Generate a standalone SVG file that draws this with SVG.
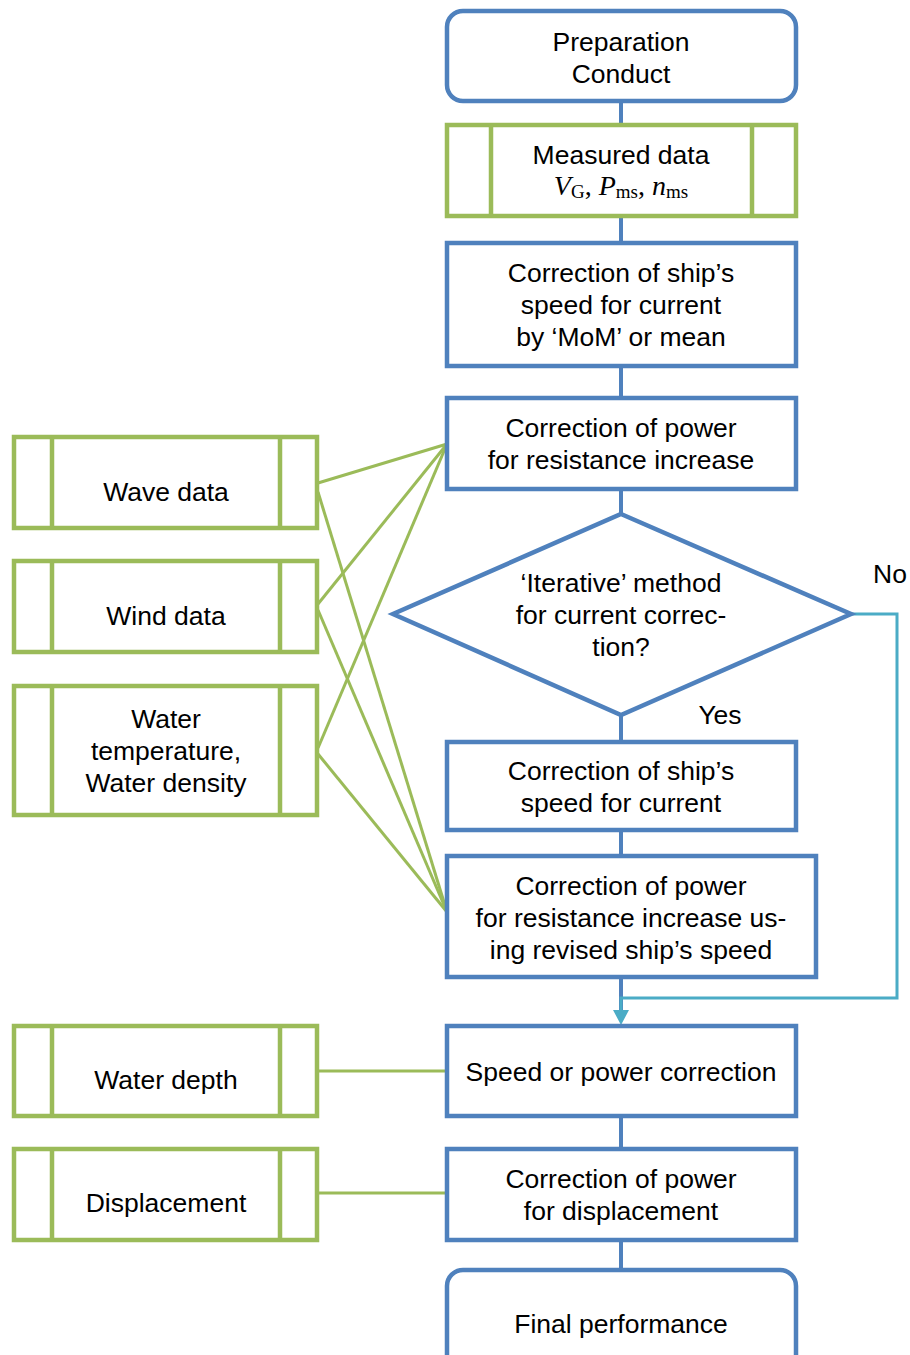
<svg xmlns="http://www.w3.org/2000/svg" width="910" height="1355" viewBox="0 0 910 1355">
  <defs>
    <style>
      .proc { fill: #ffffff; stroke: #4F81BD; stroke-width: 4.5; }
      .data { fill: #ffffff; stroke: #9BBB59; stroke-width: 4.5; }
      .bar { stroke: #9BBB59; stroke-width: 4.5; }
      .flow { stroke: #4F81BD; stroke-width: 4; fill: none; }
      .link { stroke: #9BBB59; stroke-width: 3; fill: none; }
      .alt { stroke: #4BACC6; stroke-width: 3; fill: none; }
      text { font-family: "Liberation Sans", Arial, sans-serif; font-size: 26.5px; fill: #000000; text-anchor: middle; }
      .math { font-family: "Liberation Serif", "Times New Roman", serif; font-size: 28px; }
      .it { font-style: italic; }
      .sub { font-size: 19px; }
    </style>
  </defs>

  <!-- connectors -->
  <g id="connectors">
    <line class="flow" x1="621" y1="101" x2="621" y2="125"/>
    <line class="flow" x1="621" y1="216" x2="621" y2="243"/>
    <line class="flow" x1="621" y1="366" x2="621" y2="398"/>
    <line class="flow" x1="621" y1="489" x2="621" y2="514"/>
    <line class="flow" x1="621" y1="715" x2="621" y2="742"/>
    <line class="flow" x1="621" y1="830" x2="621" y2="856"/>
    <line class="flow" x1="621" y1="977" x2="621" y2="1010"/>
    <line class="flow" x1="621" y1="1116" x2="621" y2="1149"/>
    <line class="flow" x1="621" y1="1240" x2="621" y2="1270"/>
    <!-- "No" branch -->
    <polyline class="alt" points="851,614 897,614 897,998 621,998 621,1010"/>
    <path d="M613,1010 L629,1010 L621,1025 Z" fill="#4BACC6"/>
    <!-- environmental data inputs -->
    <line class="link" x1="318" y1="483" x2="447" y2="444"/>
    <line class="link" x1="318" y1="492" x2="447" y2="912"/>
    <line class="link" x1="318" y1="604" x2="447" y2="444"/>
    <line class="link" x1="318" y1="610" x2="447" y2="912"/>
    <line class="link" x1="318" y1="748" x2="447" y2="444"/>
    <line class="link" x1="318" y1="754" x2="447" y2="912"/>
    <line class="link" x1="318" y1="1071" x2="447" y2="1071"/>
    <line class="link" x1="318" y1="1193" x2="447" y2="1193"/>
  </g>

  <g id="preparation">
    <rect class="proc" x="447" y="11" width="349" height="90" rx="16"/>
    <text x="621" y="51">Preparation</text>
    <text x="621" y="83">Conduct</text>
  </g>

  <g id="measured-data">
    <rect class="data" x="447" y="125" width="349" height="91"/>
    <line class="bar" x1="491" y1="125" x2="491" y2="216"/>
    <line class="bar" x1="752" y1="125" x2="752" y2="216"/>
    <text x="621" y="164">Measured data</text>
    <text class="math" x="621" y="195"><tspan class="it">V</tspan><tspan class="sub" dy="3">G</tspan><tspan dy="-3">, </tspan><tspan class="it">P</tspan><tspan class="sub" dy="3">ms</tspan><tspan dy="-3">, </tspan><tspan class="it">n</tspan><tspan class="sub" dy="3">ms</tspan></text>
  </g>

  <g id="speed-current-mom">
    <rect class="proc" x="447" y="243" width="349" height="123"/>
    <text x="621" y="282">Correction of ship’s</text>
    <text x="621" y="314">speed for current</text>
    <text x="621" y="346">by ‘MoM’ or mean</text>
  </g>

  <g id="power-resistance">
    <rect class="proc" x="447" y="398" width="349" height="91"/>
    <text x="621" y="437">Correction of power</text>
    <text x="621" y="469">for resistance increase</text>
  </g>

  <g id="iterative-decision">
    <polygon class="proc" points="621,514 851,614 621,715 393,614"/>
    <text x="621" y="592">‘Iterative’ method</text>
    <text x="621" y="624">for current correc-</text>
    <text x="621" y="656">tion?</text>
    <text x="720" y="724">Yes</text>
    <text x="890" y="583">No</text>
  </g>

  <g id="speed-current">
    <rect class="proc" x="447" y="742" width="349" height="88"/>
    <text x="621" y="780">Correction of ship’s</text>
    <text x="621" y="812">speed for current</text>
  </g>

  <g id="power-revised">
    <rect class="proc" x="447" y="856" width="369" height="121"/>
    <text x="631" y="895">Correction of power</text>
    <text x="631" y="927">for resistance increase us-</text>
    <text x="631" y="959">ing revised ship’s speed</text>
  </g>

  <g id="speed-power">
    <rect class="proc" x="447" y="1026" width="349" height="90"/>
    <text x="621" y="1081">Speed or power correction</text>
  </g>

  <g id="power-displacement">
    <rect class="proc" x="447" y="1149" width="349" height="91"/>
    <text x="621" y="1188">Correction of power</text>
    <text x="621" y="1220">for displacement</text>
  </g>

  <g id="final-performance">
    <rect class="proc" x="447" y="1270" width="349" height="110" rx="16"/>
    <text x="621" y="1333">Final performance</text>
  </g>

  <g id="wave-data">
    <rect class="data" x="14" y="437" width="303" height="91"/>
    <line class="bar" x1="52" y1="437" x2="52" y2="528"/>
    <line class="bar" x1="280" y1="437" x2="280" y2="528"/>
    <text x="166" y="501">Wave data</text>
  </g>

  <g id="wind-data">
    <rect class="data" x="14" y="561" width="303" height="91"/>
    <line class="bar" x1="52" y1="561" x2="52" y2="652"/>
    <line class="bar" x1="280" y1="561" x2="280" y2="652"/>
    <text x="166" y="625">Wind data</text>
  </g>

  <g id="water-properties">
    <rect class="data" x="14" y="686" width="303" height="129"/>
    <line class="bar" x1="52" y1="686" x2="52" y2="815"/>
    <line class="bar" x1="280" y1="686" x2="280" y2="815"/>
    <text x="166" y="728">Water</text>
    <text x="166" y="760">temperature,</text>
    <text x="166" y="792">Water density</text>
  </g>

  <g id="water-depth">
    <rect class="data" x="14" y="1026" width="303" height="90"/>
    <line class="bar" x1="52" y1="1026" x2="52" y2="1116"/>
    <line class="bar" x1="280" y1="1026" x2="280" y2="1116"/>
    <text x="166" y="1089">Water depth</text>
  </g>

  <g id="displacement">
    <rect class="data" x="14" y="1149" width="303" height="91"/>
    <line class="bar" x1="52" y1="1149" x2="52" y2="1240"/>
    <line class="bar" x1="280" y1="1149" x2="280" y2="1240"/>
    <text x="166" y="1212">Displacement</text>
  </g>
</svg>
